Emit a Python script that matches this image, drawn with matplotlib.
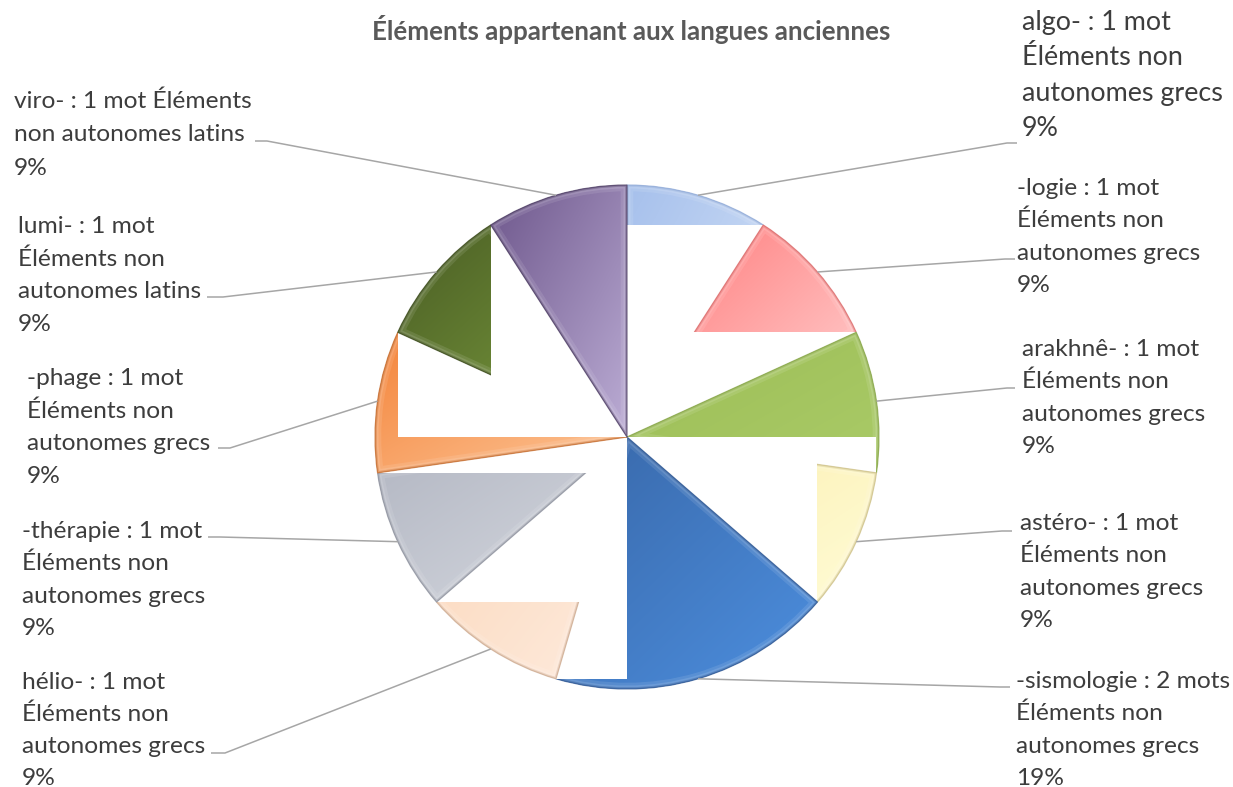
import numpy as np
import matplotlib
matplotlib.use("Agg")
import matplotlib.pyplot as plt
from matplotlib.patches import Rectangle, PathPatch
from matplotlib.colors import to_rgb

# ---- data -------------------------------------------------------------
prefixes = ["algo-", "-logie", "arakhnê-", "astéro-", "-sismologie",
            "hélio-", "-thérapie", "-phage", "lumi-", "viro-"]
counts = [1, 1, 1, 1, 2, 1, 1, 1, 1, 1]
origins = ["grecs", "grecs", "grecs", "grecs", "grecs",
           "grecs", "grecs", "grecs", "latins", "latins"]
percent_labels = ["9%", "9%", "9%", "9%", "19%", "9%", "9%", "9%", "9%", "9%"]
title = "Éléments appartenant aux langues anciennes"

# ---- styling ----------------------------------------------------------
# (dark corner, light corner) of the diagonal gradient of each slice
shades = [
    ("#a6c0ec", "#d6e4f8"),
    ("#ff7474", "#ffd6d6"),
    ("#9cbd55", "#aacb68"),
    ("#fbedac", "#fffcd6"),
    ("#3867a8", "#4d8fdf"),
    ("#fbd6b8", "#feecdf"),
    ("#b2b6c2", "#d6d9e0"),
    ("#f4843a", "#fdc597"),
    ("#4a5d24", "#7fa241"),
    ("#6e578c", "#bcadd5"),
]
edge_colors = ["#8fa9d6", "#d86a6a", "#86a448", "#c9bc84", "#2d5590",
               "#c9a68c", "#8a8e9a", "#c06a2e", "#3b4a1c", "#4a3a60"]

# words per line for each label (category + series name), then the percent
wraps = [[4, 2, 2], [4, 2, 2], [4, 2, 2], [4, 2, 2], [4, 2, 2],
         [4, 2, 2], [4, 2, 2], [4, 2, 2], [4, 2, 2], [5, 3]]

# label layout in pixels from the top-left corner:
# (text left, first baseline, line pitch, size factor, elbow, end of leader)
label_layout = [
    (1022, 30, 35.3, 1.10, (1007, 143), (1017, 143)),
    (1017, 195, 32.4, 1.00, (1005, 259), (1015, 259)),
    (1022, 356, 32.4, 1.00, (1007, 388), (1015, 388)),
    (1020, 530, 32.4, 1.00, (1002, 531), (1012, 531)),
    (1016, 688, 32.4, 1.00, (1000, 687), (1010, 687)),
    (22, 689, 32.0, 1.00, (225, 753), (211, 753)),
    (22, 538, 32.4, 1.00, (220, 537), (208, 537)),
    (27, 385, 32.6, 1.00, (230, 448), (218, 448)),
    (18, 233, 32.6, 1.00, (223, 297), (207, 297)),
    (14, 108, 33.4, 1.00, (267, 141), (255, 141)),
]

FONT = "Lato"
LABEL_COLOR = "#3d3d3d"
TITLE_COLOR = "#595959"
LEADER_COLOR = "#a6a6a6"

W, H = 1233, 787
cx, cy, R = 627, 437, 252

fig = plt.figure(figsize=(W / 100, H / 100), dpi=100)
fig.patch.set_facecolor("white")
ax = fig.add_axes([0, 0, 1, 1])

wedges, _ = ax.pie(counts, startangle=-90, counterclock=True,
                   center=(cx, cy), radius=R,
                   colors=[s[0] for s in shades],
                   wedgeprops=dict(linewidth=0))

ax.set_xlim(0, W)
ax.set_ylim(H, 0)
ax.set_aspect("equal")
ax.axis("off")

# each slice sits on a white block the size of its own bounding box,
# then gets a diagonal gradient, a soft inner bevel and a thin darker rim
gy, gx = np.mgrid[0:1:160j, 0:1:160j]
tgrad = (gx + gy) / 2.0
for i, w in enumerate(wedges):
    ext = w.get_path().get_extents()
    x0, y0, x1, y1 = ext.x0, ext.y0, ext.x1, ext.y1
    base = 10 + 6 * i
    ax.add_patch(Rectangle((x0, y0), x1 - x0, y1 - y0, facecolor="white",
                           edgecolor="none", zorder=base))
    w.set_zorder(base + 1)
    c0 = np.array(to_rgb(shades[i][0]))
    c1 = np.array(to_rgb(shades[i][1]))
    img = c0 + (c1 - c0) * tgrad[..., None]
    im = ax.imshow(img, extent=(x0, x1, y1, y0), origin="upper",
                   interpolation="bilinear", aspect="auto", zorder=base + 2)
    im.set_clip_path(w)
    # soft bevel: a light band just inside the outline, then a darker seam
    for lw, col, alpha in [(9, "white", 0.10), (5, "white", 0.12),
                           (2.5, edge_colors[i], 0.35)]:
        band = PathPatch(w.get_path(), facecolor="none", edgecolor=col,
                         linewidth=lw, alpha=alpha, zorder=base + 3)
        ax.add_patch(band)
        band.set_clip_path(w)
    ax.add_patch(PathPatch(w.get_path(), facecolor="none",
                           edgecolor=edge_colors[i], linewidth=0.9,
                           alpha=0.7, zorder=base + 4))

ax.set_xlim(0, W)
ax.set_ylim(H, 0)

renderer = fig.canvas.get_renderer()


def fit_size(text, target_px, **kw):
    probe = ax.text(0, 0, text, fontsize=20, family=FONT, **kw)
    width = probe.get_window_extent(renderer).width
    probe.remove()
    return 20 * target_px / width


label_size = fit_size("autonomes grecs", 183)
title_size = fit_size(title, 516, fontweight="bold")

# labels with leader lines
for i, w in enumerate(wedges):
    words = f"{prefixes[i]} : {counts[i]} mot{'s' if counts[i] > 1 else ''} " \
            f"Éléments non autonomes {origins[i]}".split()
    lines, k = [], 0
    for n in wraps[i]:
        lines.append(" ".join(words[k:k + n]))
        k += n
    lines.append(percent_labels[i])

    tx, ty, pitch, scale, elbow, end = label_layout[i]
    for j, line in enumerate(lines):
        ax.text(tx, ty + j * pitch, line, ha="left", va="baseline",
                family=FONT, fontsize=label_size * scale, color=LABEL_COLOR,
                zorder=200)

    mid = np.deg2rad((w.theta1 + w.theta2) / 2.0)
    sx = w.center[0] + w.r * np.cos(mid)
    sy = w.center[1] + w.r * np.sin(mid)
    ax.plot([sx, elbow[0], end[0]], [sy, elbow[1], end[1]],
            color=LEADER_COLOR, linewidth=1.1, zorder=150,
            solid_capstyle="butt")

ax.text(631, 30, title, ha="center", va="center", family=FONT,
        fontweight="bold", fontsize=title_size, color=TITLE_COLOR, zorder=200)

fig.savefig("out.png", dpi=100, facecolor="white")
